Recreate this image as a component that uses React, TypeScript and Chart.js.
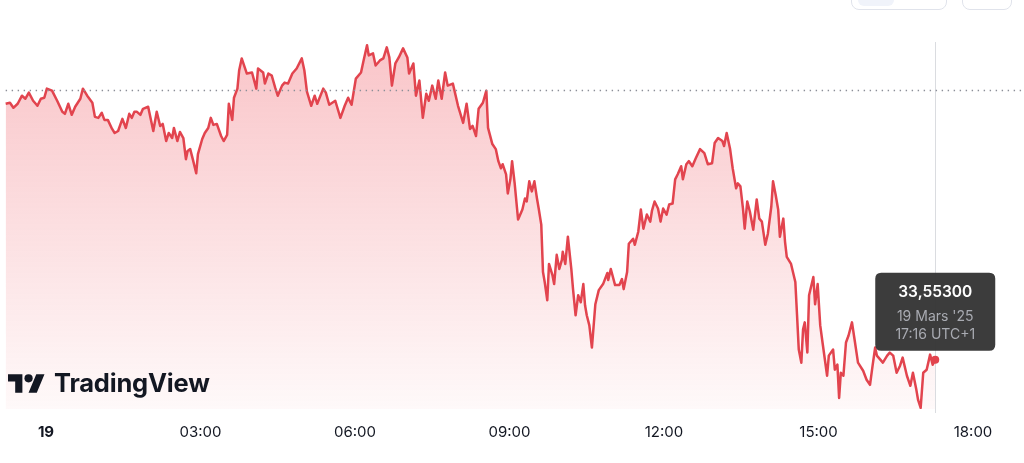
import React, { useEffect, useRef } from "react";
import { Chart, registerables } from "chart.js";

Chart.register(...registerables);

// time in minutes from 19 March 00:00 (UTC+1)
const minutes = [
  -47, -42, -38, -33, -28, -24, -20, -15, -10, -6, -2, 1, 7, 13, 19, 22, 26, 30, 34, 40,
  43, 48, 54, 57, 61, 65, 68, 72, 77, 80, 84, 89, 93, 97, 100, 103, 106, 110, 113, 119,
  125, 129, 133, 136, 140, 143, 147, 149, 153, 156, 160, 163, 165, 168, 171, 175, 177, 182, 185, 189,
  192, 195, 199, 204, 207, 211, 213, 217, 219, 223, 225, 228,
  234, 240, 245, 247, 253, 255, 259, 263, 267, 270, 275, 278, 282, 287, 292, 298, 301, 304, 309, 313,
  316, 323, 326, 330, 337, 343, 348, 352, 356, 361, 367, 370, 374, 376, 381, 384, 389, 393, 397, 400,
  403, 407, 411, 416, 421, 423, 428, 431, 435, 439, 443, 446, 450, 454, 457, 461, 465, 468, 474, 480,
  486, 490, 494, 497, 501, 504, 509, 513,
  515, 520, 524, 527, 530, 532, 536, 538, 541, 543, 546, 550, 555, 558, 560, 563, 566, 569, 572, 574,
  577, 579, 581, 584, 586, 590, 592, 595, 598, 601, 602, 605, 608, 612, 614, 617, 620, 623, 626, 628,
  630, 633, 636, 640, 644, 649, 654, 655, 658, 663, 668, 671, 673, 677, 679, 684, 686, 690, 693, 696,
  700, 704, 706, 709, 713, 716, 719, 723, 726, 730, 733, 736, 740, 742, 746, 749, 753, 757, 762, 767,
  771, 776, 779, 783, 788, 790, 793, 797, 800, 804, 806,
  809, 812, 814, 817, 820, 824, 828, 831, 834, 838, 841, 845, 847, 850, 853, 855, 859, 861, 863, 868,
  873, 875, 877, 880, 882, 884, 887, 889, 894, 896, 899, 902, 905, 910, 912, 917, 919, 922, 924, 926,
  929, 932, 935, 939, 942, 946, 952, 956, 960, 963, 966, 968, 972, 975, 980, 983, 987, 991, 995, 998,
  1003, 1007, 1010, 1014, 1016, 1019, 1022, 1026, 1030, 1033, 1036,
];

const prices = [
  33.807, 33.808, 33.803, 33.807, 33.815, 33.812, 33.818, 33.81, 33.805, 33.812,
  33.813, 33.822, 33.82, 33.81, 33.799, 33.797, 33.807, 33.796, 33.804, 33.812,
  33.822, 33.815, 33.808, 33.794, 33.793, 33.798, 33.791, 33.791, 33.782, 33.778,
  33.78, 33.792, 33.783, 33.797, 33.793, 33.799, 33.799, 33.796, 33.802, 33.804,
  33.78, 33.799, 33.785, 33.787, 33.77, 33.778, 33.773, 33.783, 33.77, 33.779,
  33.773, 33.752, 33.76, 33.762, 33.752, 33.738, 33.757, 33.772, 33.778, 33.783,
  33.793, 33.786, 33.787, 33.775, 33.77, 33.776, 33.807, 33.791, 33.813, 33.822,
  33.84, 33.852,
  33.837, 33.838, 33.822, 33.842, 33.838, 33.827, 33.837, 33.835, 33.823, 33.815,
  33.825, 33.828, 33.827, 33.837, 33.842, 33.852, 33.84, 33.819, 33.805, 33.815,
  33.807, 33.822, 33.818, 33.806, 33.81, 33.793, 33.805, 33.813, 33.806, 33.832,
  33.838, 33.85, 33.865, 33.855, 33.857, 33.845, 33.85, 33.852, 33.863, 33.853,
  33.825, 33.847, 33.853, 33.862, 33.853, 33.837, 33.847, 33.815, 33.83, 33.793,
  33.817, 33.81, 33.825, 33.812, 33.83, 33.812, 33.838, 33.825, 33.827, 33.805,
  33.788, 33.807, 33.782, 33.785, 33.775, 33.802, 33.808, 33.82,
  33.783, 33.767, 33.762, 33.75, 33.743, 33.747, 33.737, 33.718, 33.732, 33.75,
  33.728, 33.692, 33.702, 33.713, 33.71, 33.73, 33.72, 33.73, 33.713, 33.703,
  33.687, 33.64, 33.63, 33.612, 33.648, 33.637, 33.628, 33.657, 33.643, 33.652,
  33.66, 33.648, 33.675, 33.643, 33.623, 33.597, 33.617, 33.61, 33.628, 33.607,
  33.597, 33.587, 33.565, 33.608, 33.622, 33.628, 33.639, 33.632, 33.643, 33.627,
  33.627, 33.633, 33.623, 33.64, 33.668, 33.673, 33.667, 33.68, 33.702, 33.683,
  33.697, 33.69, 33.701, 33.71, 33.703, 33.69, 33.703, 33.697, 33.707, 33.708,
  33.732, 33.737, 33.745, 33.732, 33.747, 33.75, 33.745, 33.753, 33.762, 33.758,
  33.747, 33.748, 33.768, 33.773, 33.77, 33.765, 33.778, 33.762, 33.743, 33.723,
  33.728,
  33.725, 33.703, 33.683, 33.71, 33.7, 33.682, 33.712, 33.693, 33.69, 33.667,
  33.678, 33.705, 33.73, 33.717, 33.702, 33.675, 33.693, 33.67, 33.655, 33.648,
  33.63, 33.597, 33.563, 33.55, 33.583, 33.59, 33.56, 33.617, 33.635, 33.608,
  33.628, 33.587, 33.568, 33.537, 33.557, 33.563, 33.543, 33.548, 33.515, 33.54,
  33.537, 33.57, 33.577, 33.59, 33.573, 33.55, 33.542, 33.533, 33.528, 33.547,
  33.565, 33.557, 33.553, 33.55, 33.557, 33.56, 33.557, 33.54, 33.547, 33.555,
  33.537, 33.527, 33.54, 33.523, 33.513, 33.505, 33.54, 33.543, 33.558, 33.548,
  33.553,
];

const tickMinutes = [0, 180, 360, 540, 720, 900, 1080];
const tickLabels = ["19", "03:00", "06:00", "09:00", "12:00", "15:00", "18:00"];
const previousClose = 33.821;
const lastPriceLabel = "33,55300";
const lastDateLabel = "19 Mars '25";
const lastTimeLabel = "17:16 UTC+1";

const LINE = "rgb(226,68,78)";

function roundRect(ctx: CanvasRenderingContext2D, x: number, y: number, w: number, h: number, r: number) {
  ctx.beginPath();
  ctx.moveTo(x + r, y);
  ctx.lineTo(x + w - r, y);
  ctx.quadraticCurveTo(x + w, y, x + w, y + r);
  ctx.lineTo(x + w, y + h - r);
  ctx.quadraticCurveTo(x + w, y + h, x + w - r, y + h);
  ctx.lineTo(x + r, y + h);
  ctx.quadraticCurveTo(x, y + h, x, y + h - r);
  ctx.lineTo(x, y + r);
  ctx.quadraticCurveTo(x, y, x + r, y);
  ctx.closePath();
}

const overlayPlugin = {
  id: "overlay",
  beforeDatasetsDraw(chart: any) {
    const { ctx, scales } = chart;
    const last = minutes.length - 1;
    const px = Math.round(scales.x.getPixelForValue(minutes[last])) + 0.5;
    ctx.save();
    ctx.strokeStyle = "#dadce0";
    ctx.lineWidth = 1;
    ctx.beginPath();
    ctx.moveTo(px, 42);
    ctx.lineTo(px, chart.chartArea.bottom + 4);
    ctx.stroke();
    ctx.restore();
  },
  afterDatasetsDraw(chart: any) {
    const { ctx, scales, chartArea } = chart;
    // previous close dotted line
    const y = Math.round(scales.y.getPixelForValue(previousClose)) + 0.5;
    ctx.save();
    ctx.strokeStyle = "#8c8f98";
    ctx.lineWidth = 1.4;
    ctx.setLineDash([1.4, 4.6]);
    ctx.beginPath();
    ctx.moveTo(scales.x.getPixelForValue(minutes[0]), y);
    ctx.lineTo(chartArea.right, y);
    ctx.stroke();
    ctx.restore();

    // tooltip box
    const last = minutes.length - 1;
    const px = scales.x.getPixelForValue(minutes[last]);
    const py = scales.y.getPixelForValue(prices[last]);
    const w = 120;
    const h = 78;
    const bx = px - w / 2;
    const by = py - 9 - h;
    ctx.save();
    ctx.fillStyle = "rgba(52,52,52,0.96)";
    roundRect(ctx, bx, by, w, h, 6);
    ctx.fill();
    ctx.textAlign = "center";
    ctx.textBaseline = "middle";
    ctx.fillStyle = "#ffffff";
    ctx.font = "600 15.5px Inter, 'Noto Sans', sans-serif";
    ctx.fillText(lastPriceLabel, px, by + 20);
    ctx.fillStyle = "#a9abb2";
    ctx.font = "14px Inter, 'Noto Sans', sans-serif";
    ctx.fillText(lastDateLabel, px, by + 44);
    ctx.fillText(lastTimeLabel, px, by + 62);
    ctx.restore();
  },
};

function TvLogo() {
  return (
    <div
      style={{
        position: "absolute",
        left: 8,
        top: 368,
        display: "flex",
        alignItems: "center",
        gap: 9,
        color: "#131722",
      }}
    >
      <svg width="37" height="19" viewBox="0 4 36 18" style={{ display: "block" }}>
        <path d="M14 22H7V11H0V4h14v18zM28 22h-8l7.5-18h8L28 22z" fill="#131722" />
        <circle cx="20" cy="8" r="4" fill="#131722" />
      </svg>
      <span
        style={{
          fontFamily: "Inter, 'Noto Sans', sans-serif",
          fontWeight: 700,
          fontSize: 25.5,
          letterSpacing: -0.2,
          lineHeight: "30px",
        }}
      >
        TradingView
      </span>
    </div>
  );
}

export default function App() {
  const canvasRef = useRef<HTMLCanvasElement | null>(null);

  useEffect(() => {
    if (!canvasRef.current) return;
    const data = minutes.map((m, i) => ({ x: m, y: prices[i] }));
    const chart = new Chart(canvasRef.current, {
      type: "line",
      data: {
        datasets: [
          {
            data,
            borderColor: LINE,
            borderWidth: 2.5,
            borderJoinStyle: "round",
            tension: 0,
            fill: "start",
            backgroundColor: (c: any) => {
              const { chart: ch } = c;
              const area = ch.chartArea;
              if (!area) return "rgba(242,54,69,0.15)";
              const g = ch.ctx.createLinearGradient(0, area.top + 40, 0, area.bottom);
              g.addColorStop(0, "rgba(236,60,72,0.30)");
              g.addColorStop(1, "rgba(236,60,72,0.03)");
              return g;
            },
            pointRadius: (c: any) => (c.dataIndex === minutes.length - 1 ? 4 : 0),
            pointBackgroundColor: LINE,
            pointBorderColor: LINE,
            pointBorderWidth: 0,
          },
        ],
      },
      options: {
        responsive: false,
        animation: false,
        events: [],
        layout: { autoPadding: false, padding: { top: 0, left: 0, right: 0, bottom: 8 } },
        plugins: { legend: { display: false }, tooltip: { enabled: false } },
        scales: {
          x: {
            type: "linear",
            min: -53.6,
            max: 1139.4,
            border: { display: false },
            grid: { display: false, drawTicks: false },
            afterBuildTicks: (scale: any) => {
              scale.ticks = tickMinutes.map((v) => ({ value: v }));
            },
            ticks: {
              padding: 14,
              maxRotation: 0,
              autoSkip: false,
              color: "#131722",
              font: (c: any) => ({
                family: "Inter, 'Noto Sans', sans-serif",
                size: 15,
                weight: c.tick && c.tick.value === 0 ? "bold" : "normal",
              }),
              callback: (v: any) => {
                const i = tickMinutes.indexOf(Number(v));
                return i >= 0 ? tickLabels[i] : "";
              },
            },
          },
          y: {
            display: false,
            min: 33.504,
            max: 33.91,
          },
        },
      },
      plugins: [overlayPlugin],
    } as any);
    return () => chart.destroy();
  }, []);

  return (
    <div
      style={{
        position: "fixed",
        left: 0,
        top: 0,
        width: 1024,
        height: 463,
        background: "#ffffff",
        overflow: "hidden",
      }}
    >
      <canvas ref={canvasRef} width={1024} height={463} style={{ display: "block" }} />
      <div
        style={{
          position: "absolute",
          left: 851,
          top: -22,
          width: 96,
          height: 32,
          border: "1px solid #e0e3eb",
          borderRadius: 8,
          boxSizing: "border-box",
        }}
      >
        <div
          style={{
            position: "absolute",
            left: 6,
            top: 0,
            width: 36,
            height: 27,
            background: "#f0f3fa",
            borderRadius: 6,
          }}
        />
      </div>
      <div
        style={{
          position: "absolute",
          left: 962,
          top: -22,
          width: 50,
          height: 32,
          border: "1px solid #e0e3eb",
          borderRadius: 8,
          boxSizing: "border-box",
        }}
      />
      <TvLogo />
    </div>
  );
}
